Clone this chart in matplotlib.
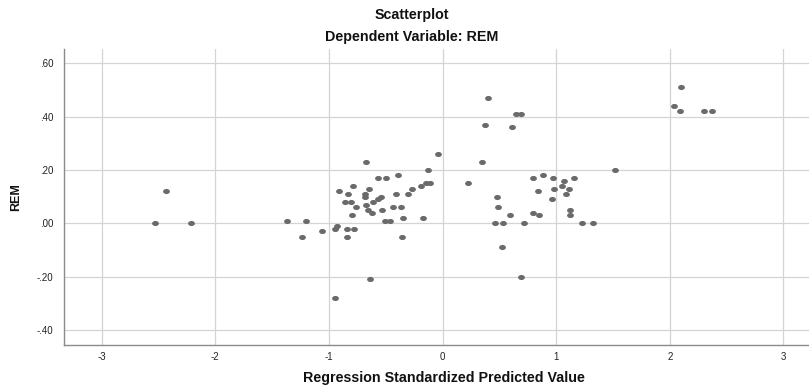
import numpy as np
import matplotlib
matplotlib.use("Agg")
import matplotlib.pyplot as plt
from matplotlib.path import Path

plt.rcParams['font.family'] = ['Liberation Sans', 'DejaVu Sans']

title = "Scatterplot"
subtitle = "Dependent Variable: REM"
x_label = "Regression Standardized Predicted Value"
y_label = "REM"

x_ticks = [-3, -2, -1, 0, 1, 2, 3]
x_tick_labels = ["-3", "-2", "-1", "0", "1", "2", "3"]
y_ticks = [0.60, 0.40, 0.20, 0.00, -0.20, -0.40]
y_tick_labels = [".60", ".40", ".20", ".00", "-.20", "-.40"]

pred = [-2.53, -2.43, -2.21, -1.37, -1.20, -1.24, -1.06, -0.95, -0.93, -0.95,
        -0.91, -0.84, -0.78, -0.84, -0.83, -0.79, -0.86, -0.81, -0.76, -0.80,
        -0.67, -0.68, -0.68, -0.65, -0.67, -0.66, -0.62, -0.61, -0.57, -0.54,
        -0.57, -0.50, -0.53, -0.51, -0.46, -0.64, -0.41, -0.39, -0.44, -0.37,
        -0.35, -0.36, -0.30, -0.27, -0.19, -0.15, -0.11, -0.13, -0.17, -0.04,
        0.22, 0.35, 0.37, 0.40, 0.48, 0.49, 0.46, 0.53, 0.52, 0.59,
        0.61, 0.65, 0.69, 0.72, 0.69, 0.80, 0.84, 0.80, 0.85, 0.88,
        0.96, 0.97, 0.98, 1.05, 1.07, 1.11, 1.09, 1.16, 1.12, 1.12,
        1.23, 1.32, 1.52, 2.04, 2.10, 2.09, 2.30, 2.37]
rem = [0.00, 0.12, 0.00, 0.01, 0.01, -0.05, -0.03, -0.02, -0.01, -0.28,
       0.12, -0.02, -0.02, -0.05, 0.11, 0.14, 0.08, 0.08, 0.06, 0.03,
       0.23, 0.11, 0.10, 0.13, 0.07, 0.05, 0.04, 0.08, 0.09, 0.10,
       0.17, 0.17, 0.05, 0.01, 0.01, -0.21, 0.11, 0.18, 0.06, 0.06,
       0.02, -0.05, 0.11, 0.13, 0.14, 0.15, 0.15, 0.20, 0.02, 0.26,
       0.15, 0.23, 0.37, 0.47, 0.10, 0.06, 0.00, 0.00, -0.09, 0.03,
       0.36, 0.41, 0.41, 0.00, -0.20, 0.17, 0.12, 0.04, 0.03, 0.18,
       0.09, 0.17, 0.13, 0.14, 0.16, 0.13, 0.11, 0.17, 0.05, 0.03,
       0.00, 0.00, 0.20, 0.44, 0.51, 0.42, 0.42, 0.42]

W, H = 809, 387
fig = plt.figure(figsize=(W / 100, H / 100), dpi=100)
left, right, top, bottom = 64, 809, 49, 344.5
ax = fig.add_axes([left / W, 1 - bottom / H, (right - left) / W, (bottom - top) / H])

# elliptical marker (wider than tall)
t = np.linspace(0, 2 * np.pi, 40)
ell = Path(np.column_stack([np.cos(t), 0.75 * np.sin(t)]), closed=True)

ax.scatter(pred, rem, marker=ell, s=24, color='#6a6a6a', linewidths=0, zorder=3)

ax.set_xlim(-3.332, 3.225)
ax.set_ylim(-0.4544, 0.6536)
ax.set_xticks(x_ticks)
ax.set_xticklabels(x_tick_labels)
ax.set_yticks(y_ticks)
ax.set_yticklabels(y_tick_labels)
ax.tick_params(axis='both', length=0, labelsize=7, colors='#222222')
ax.tick_params(axis='x', pad=5.5)
ax.tick_params(axis='y', pad=7.5)
ax.grid(True, color='#d4d4d4', linewidth=0.9, zorder=0)
ax.set_axisbelow(True)
for s in ['top', 'right']:
    ax.spines[s].set_visible(False)
for s in ['left', 'bottom']:
    ax.spines[s].set_color('#8a8a8a')
    ax.spines[s].set_linewidth(1.0)

fig.text(411.7 / W, 1 - 19.3 / H, title, ha='center', va='baseline',
         fontsize=10.3, fontweight='bold', color='#111111')
fig.text(411.7 / W, 1 - 41 / H, subtitle, ha='center', va='baseline',
         fontsize=10.3, fontweight='bold', color='#111111')
fig.text(444 / W, 1 - 382.3 / H, x_label, ha='center', va='baseline',
         fontsize=10.3, fontweight='bold', color='#111111')
fig.text(16 / W, 1 - 197.5 / H, y_label, ha='center', va='center', rotation=90,
         fontsize=9, fontweight='bold', color='#111111')

fig.savefig('out.png', dpi=100)
